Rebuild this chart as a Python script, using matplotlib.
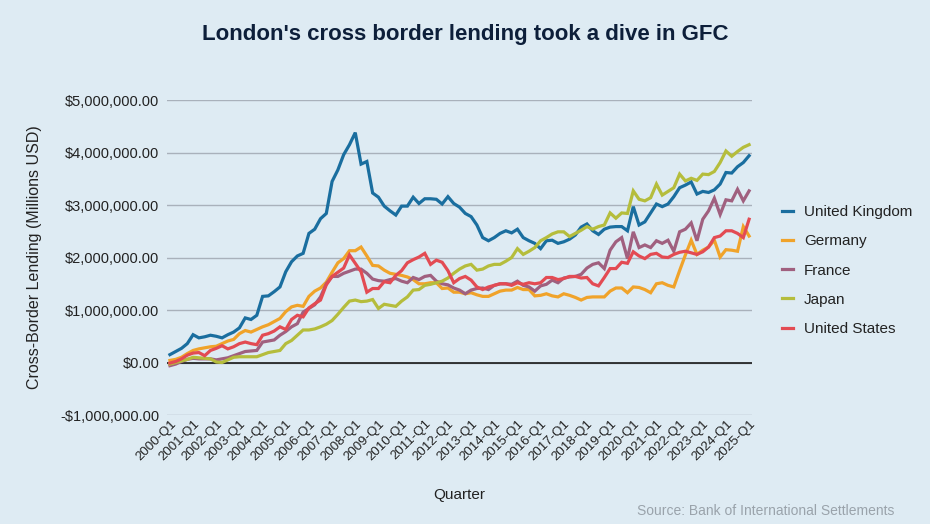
import numpy as np
import matplotlib
matplotlib.use("Agg")
import matplotlib.pyplot as plt
from matplotlib.ticker import FuncFormatter

plt.rcParams["font.family"] = ["Liberation Sans", "DejaVu Sans"]

# quarterly values, in millions of USD (x 1e6 on the axis)
years = list(range(2000, 2026))
quarters = [f"{y}-Q{q}" for y in years for q in range(1, 5)][:101]

uk = [0.15, 0.21, 0.27, 0.36, 0.53, 0.47, 0.49, 0.52, 0.50, 0.47,
      0.53, 0.58, 0.66, 0.85, 0.82, 0.90, 1.26, 1.27, 1.35, 1.44,
      1.73, 1.92, 2.03, 2.08, 2.46, 2.54, 2.74, 2.84, 3.45, 3.67,
      3.96, 4.15, 4.38, 3.78, 3.83, 3.23, 3.15, 2.98, 2.89, 2.81,
      2.98, 2.98, 3.15, 3.03, 3.12, 3.12, 3.11, 3.02, 3.16, 3.03,
      2.96, 2.84, 2.78, 2.62, 2.38, 2.32, 2.38, 2.46, 2.51, 2.47,
      2.54, 2.38, 2.32, 2.27, 2.17, 2.32, 2.33, 2.27, 2.30, 2.35,
      2.43, 2.58, 2.64, 2.51, 2.44, 2.54, 2.58, 2.59, 2.59, 2.51,
      2.97, 2.62, 2.68, 2.85, 3.02, 2.97, 3.02, 3.16, 3.33, 3.38,
      3.44, 3.21, 3.26, 3.24, 3.29, 3.40, 3.62, 3.61, 3.73, 3.81,
      3.94]

germany = [0.04, 0.06, 0.10, 0.17, 0.23, 0.26, 0.28, 0.30, 0.31, 0.36,
           0.41, 0.44, 0.55, 0.61, 0.58, 0.63, 0.68, 0.72, 0.78, 0.84,
           0.97, 1.06, 1.09, 1.07, 1.26, 1.36, 1.42, 1.53, 1.72, 1.90,
           1.98, 2.13, 2.13, 2.20, 2.03, 1.85, 1.84, 1.76, 1.70, 1.68,
           1.66, 1.63, 1.58, 1.50, 1.50, 1.52, 1.52, 1.41, 1.42, 1.34,
           1.34, 1.31, 1.33, 1.29, 1.26, 1.26, 1.31, 1.36, 1.38, 1.38,
           1.43, 1.39, 1.39, 1.27, 1.28, 1.31, 1.27, 1.25, 1.31, 1.28,
           1.24, 1.19, 1.24, 1.25, 1.25, 1.25, 1.36, 1.42, 1.42, 1.33,
           1.44, 1.43, 1.39, 1.33, 1.50, 1.52, 1.47, 1.44, 1.75, 2.05,
           2.33, 2.06, 2.14, 2.20, 2.33, 2.01, 2.15, 2.14, 2.12, 2.59,
           2.41]

france = [-0.06, -0.03, 0.02, 0.06, 0.08, 0.07, 0.07, 0.07, 0.05, 0.07,
          0.09, 0.13, 0.17, 0.21, 0.22, 0.23, 0.39, 0.41, 0.43, 0.52,
          0.59, 0.68, 0.74, 0.96, 1.03, 1.10, 1.25, 1.50, 1.64, 1.64,
          1.70, 1.74, 1.78, 1.78, 1.70, 1.59, 1.56, 1.55, 1.58, 1.60,
          1.55, 1.52, 1.62, 1.58, 1.64, 1.66, 1.55, 1.50, 1.48, 1.42,
          1.38, 1.31, 1.38, 1.41, 1.42, 1.39, 1.47, 1.50, 1.50, 1.49,
          1.55, 1.47, 1.44, 1.36, 1.46, 1.49, 1.57, 1.52, 1.61, 1.63,
          1.64, 1.68, 1.80, 1.87, 1.90, 1.79, 2.14, 2.30, 2.38, 1.98,
          2.49, 2.19, 2.24, 2.19, 2.32, 2.27, 2.33, 2.12, 2.49, 2.54,
          2.66, 2.32, 2.73, 2.89, 3.13, 2.82, 3.10, 3.08, 3.30, 3.08,
          3.27]

japan = [-0.03, 0.00, 0.03, 0.06, 0.10, 0.09, 0.08, 0.07, 0.01, 0.00,
         0.05, 0.10, 0.11, 0.11, 0.11, 0.11, 0.15, 0.19, 0.21, 0.23,
         0.36, 0.42, 0.52, 0.62, 0.62, 0.64, 0.68, 0.73, 0.80, 0.92,
         1.05, 1.17, 1.19, 1.16, 1.17, 1.20, 1.03, 1.11, 1.09, 1.07,
         1.17, 1.25, 1.38, 1.39, 1.47, 1.49, 1.52, 1.55, 1.61, 1.70,
         1.78, 1.84, 1.87, 1.76, 1.78, 1.84, 1.87, 1.87, 1.93, 2.00,
         2.17, 2.06, 2.12, 2.19, 2.32, 2.38, 2.45, 2.49, 2.49, 2.40,
         2.46, 2.52, 2.59, 2.54, 2.59, 2.62, 2.85, 2.75, 2.85, 2.84,
         3.27, 3.11, 3.08, 3.14, 3.40, 3.19, 3.26, 3.33, 3.59, 3.46,
         3.51, 3.47, 3.59, 3.58, 3.64, 3.81, 4.03, 3.93, 4.02, 4.10,
         4.15]

united_states = [-0.01, 0.02, 0.07, 0.14, 0.18, 0.19, 0.13, 0.23, 0.27, 0.32,
                 0.26, 0.30, 0.36, 0.39, 0.36, 0.34, 0.52, 0.55, 0.60, 0.68,
                 0.63, 0.82, 0.90, 0.87, 1.04, 1.12, 1.19, 1.48, 1.64, 1.72,
                 1.80, 2.05, 1.89, 1.73, 1.34, 1.41, 1.41, 1.54, 1.52, 1.66,
                 1.75, 1.90, 1.96, 2.01, 2.08, 1.87, 1.95, 1.91, 1.75, 1.52,
                 1.60, 1.64, 1.57, 1.44, 1.39, 1.44, 1.47, 1.50, 1.50, 1.47,
                 1.52, 1.49, 1.52, 1.50, 1.52, 1.62, 1.62, 1.58, 1.60, 1.64,
                 1.64, 1.61, 1.62, 1.50, 1.46, 1.62, 1.79, 1.79, 1.91, 1.89,
                 2.11, 2.03, 1.98, 2.06, 2.08, 2.01, 2.00, 2.06, 2.10, 2.12,
                 2.09, 2.06, 2.11, 2.20, 2.38, 2.41, 2.51, 2.51, 2.46, 2.38,
                 2.73]

series = [
    ("United Kingdom", uk, "#1a6e9f"),
    ("Germany", germany, "#f0a32a"),
    ("France", france, "#a0607f"),
    ("Japan", japan, "#b5bd3c"),
    ("United States", united_states, "#e34b53"),
]

bg = "#deebf3"
fig = plt.figure(figsize=(9.3, 5.24), dpi=100, facecolor=bg)
ax = fig.add_axes([0.1796, 0.208, 0.629, 0.601], facecolor=bg)

x = np.arange(len(quarters))
for name, vals, col in series:
    ax.plot(x, np.array(vals) * 1e6, color=col, lw=2.3, label=name,
            solid_joinstyle="miter", zorder=3)

ax.set_xlim(-0.5, len(quarters) - 0.5)
ax.set_ylim(-1e6, 5e6)
ax.set_yticks(np.arange(-1e6, 5.1e6, 1e6))
ax.yaxis.set_major_formatter(FuncFormatter(
    lambda v, p: f"-${abs(v):,.2f}" if v < 0 else f"${v:,.2f}"))
ax.grid(axis="y", color="#a9b1bb", lw=1)
ax.axhline(0, color="#1a1a1a", lw=1.2, zorder=2)
for s in ax.spines.values():
    s.set_visible(False)

ax.set_xticks(x[::4])
ax.set_xticklabels(quarters[::4], rotation=45, ha="right",
                   rotation_mode="anchor", fontsize=9.5, color="#222222")
ax.tick_params(axis="both", length=0)
ax.tick_params(axis="y", labelsize=10.5, colors="#222222", pad=5.5)
ax.tick_params(axis="x", pad=2)

ax.set_xlabel("Quarter", fontsize=11, color="#222222", labelpad=18)
ax.set_ylabel("Cross-Border Lending (Millions USD)", fontsize=11.5,
              color="#222222", labelpad=13)

fig.suptitle("London's cross border lending took a dive in GFC",
             x=0.5, y=0.955, fontsize=16, fontweight="bold", color="#0d1f3a")

fig.legend(loc="upper left", bbox_to_anchor=(0.826, 0.635), frameon=False,
           fontsize=11, handlelength=0.75, handletextpad=0.7,
           labelspacing=1.0, labelcolor="#222222")

fig.text(0.962, 0.012, "Source: Bank of International Settlements",
         ha="right", va="bottom", fontsize=10, color="#9aa3ab")

fig.savefig("out.png", dpi=100, facecolor=bg)
